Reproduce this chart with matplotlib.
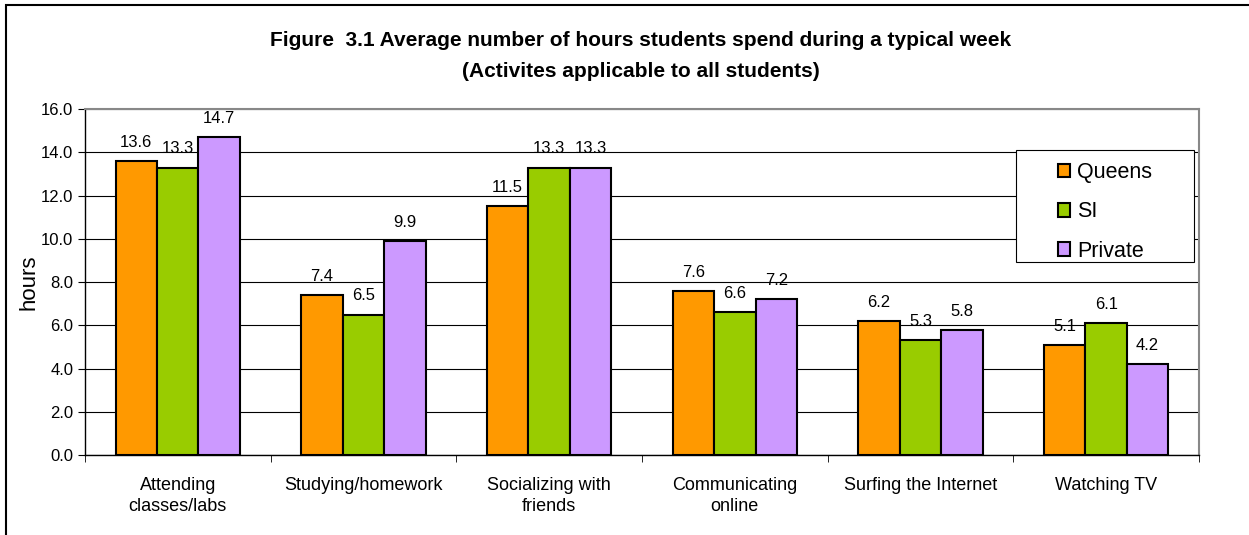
"""Grouped bar chart: average weekly hours by activity and student group."""

import matplotlib.pyplot as plt
import numpy as np
from matplotlib.patches import Rectangle
from matplotlib.ticker import FormatStrFormatter

plt.rcParams["font.family"] = ["Liberation Sans", "DejaVu Sans"]

ACTIVITIES = [
    "Attending\nclasses/labs",
    "Studying/homework",
    "Socializing with\nfriends",
    "Communicating\nonline",
    "Surfing the Internet",
    "Watching TV",
]
GROUPS = ["Queens", "SI", "Private"]
QUEENS = [13.6, 7.4, 11.5, 7.6, 6.2, 5.1]
SI = [13.3, 6.5, 13.3, 6.6, 5.3, 6.1]
PRIVATE = [14.7, 9.9, 13.3, 7.2, 5.8, 4.2]
COLORS = ["#FF9900", "#99CC00", "#CC99FF"]

fig = plt.figure(figsize=(12.49, 5.35), dpi=100)
ax = fig.add_axes([0.068, 0.1495, 0.892, 0.6465])

x = np.arange(len(ACTIVITIES))
width = 0.223
for i, (name, vals, color) in enumerate(zip(GROUPS, [QUEENS, SI, PRIVATE], COLORS)):
    bars = ax.bar(x + (i - 1) * width, vals, width, label=name, color=color,
                  edgecolor="black", linewidth=1.5, zorder=3)
    ax.bar_label(bars, labels=[f"{v:.1f}" for v in vals], padding=8, fontsize=12)

ax.set_xlim(-0.5, len(ACTIVITIES) - 0.5)
ax.set_ylim(0, 16)
ax.set_yticks(np.arange(0, 16.1, 2))
ax.yaxis.set_major_formatter(FormatStrFormatter("%.1f"))
ax.set_xticks(x)
ax.set_xticklabels(ACTIVITIES, fontsize=13, linespacing=1.3)
ax.set_xticks(np.arange(-0.5, len(ACTIVITIES), 1), minor=True)
ax.tick_params(axis="x", which="major", length=0, pad=16)
ax.tick_params(axis="x", which="minor", length=5, direction="out")
ax.tick_params(axis="y", length=5, labelsize=12)
ax.set_ylabel("hours", fontsize=16, labelpad=1)

ax.grid(True, axis="y", color="black", linewidth=0.8, zorder=0)
for side in ["top", "right"]:
    ax.spines[side].set_color("#888888")
    ax.spines[side].set_linewidth(1.5)
for side in ["left", "bottom"]:
    ax.spines[side].set_color("black")
    ax.spines[side].set_linewidth(1.0)

# legend box drawn separately so it can be wider than its entries
ax.add_patch(Rectangle((0.836, 0.558), 0.1595, 0.3235, transform=ax.transAxes,
                       facecolor="white", edgecolor="black", linewidth=0.8,
                       zorder=4, clip_on=False))
leg = ax.legend(loc="upper left", bbox_to_anchor=(0.873, 0.847), fontsize=15.5,
                frameon=False, handlelength=0.6, handleheight=0.6,
                handletextpad=0.3, labelspacing=0.85, borderpad=0,
                borderaxespad=0)
leg.set_zorder(5)
for h in leg.legend_handles:
    h.set_linewidth(1.5)

fig.text(0.513, 0.925, "Figure  3.1 Average number of hours students spend during a typical week",
         ha="center", va="center", fontsize=15, fontweight="bold")
fig.text(0.513, 0.866, "(Activites applicable to all students)",
         ha="center", va="center", fontsize=15, fontweight="bold")

fig.patches.append(Rectangle((0.005, -0.1), 1.1, 1.09, transform=fig.transFigure,
                             fill=False, edgecolor="black", linewidth=1.5))

fig.savefig("out.png", dpi=100)
